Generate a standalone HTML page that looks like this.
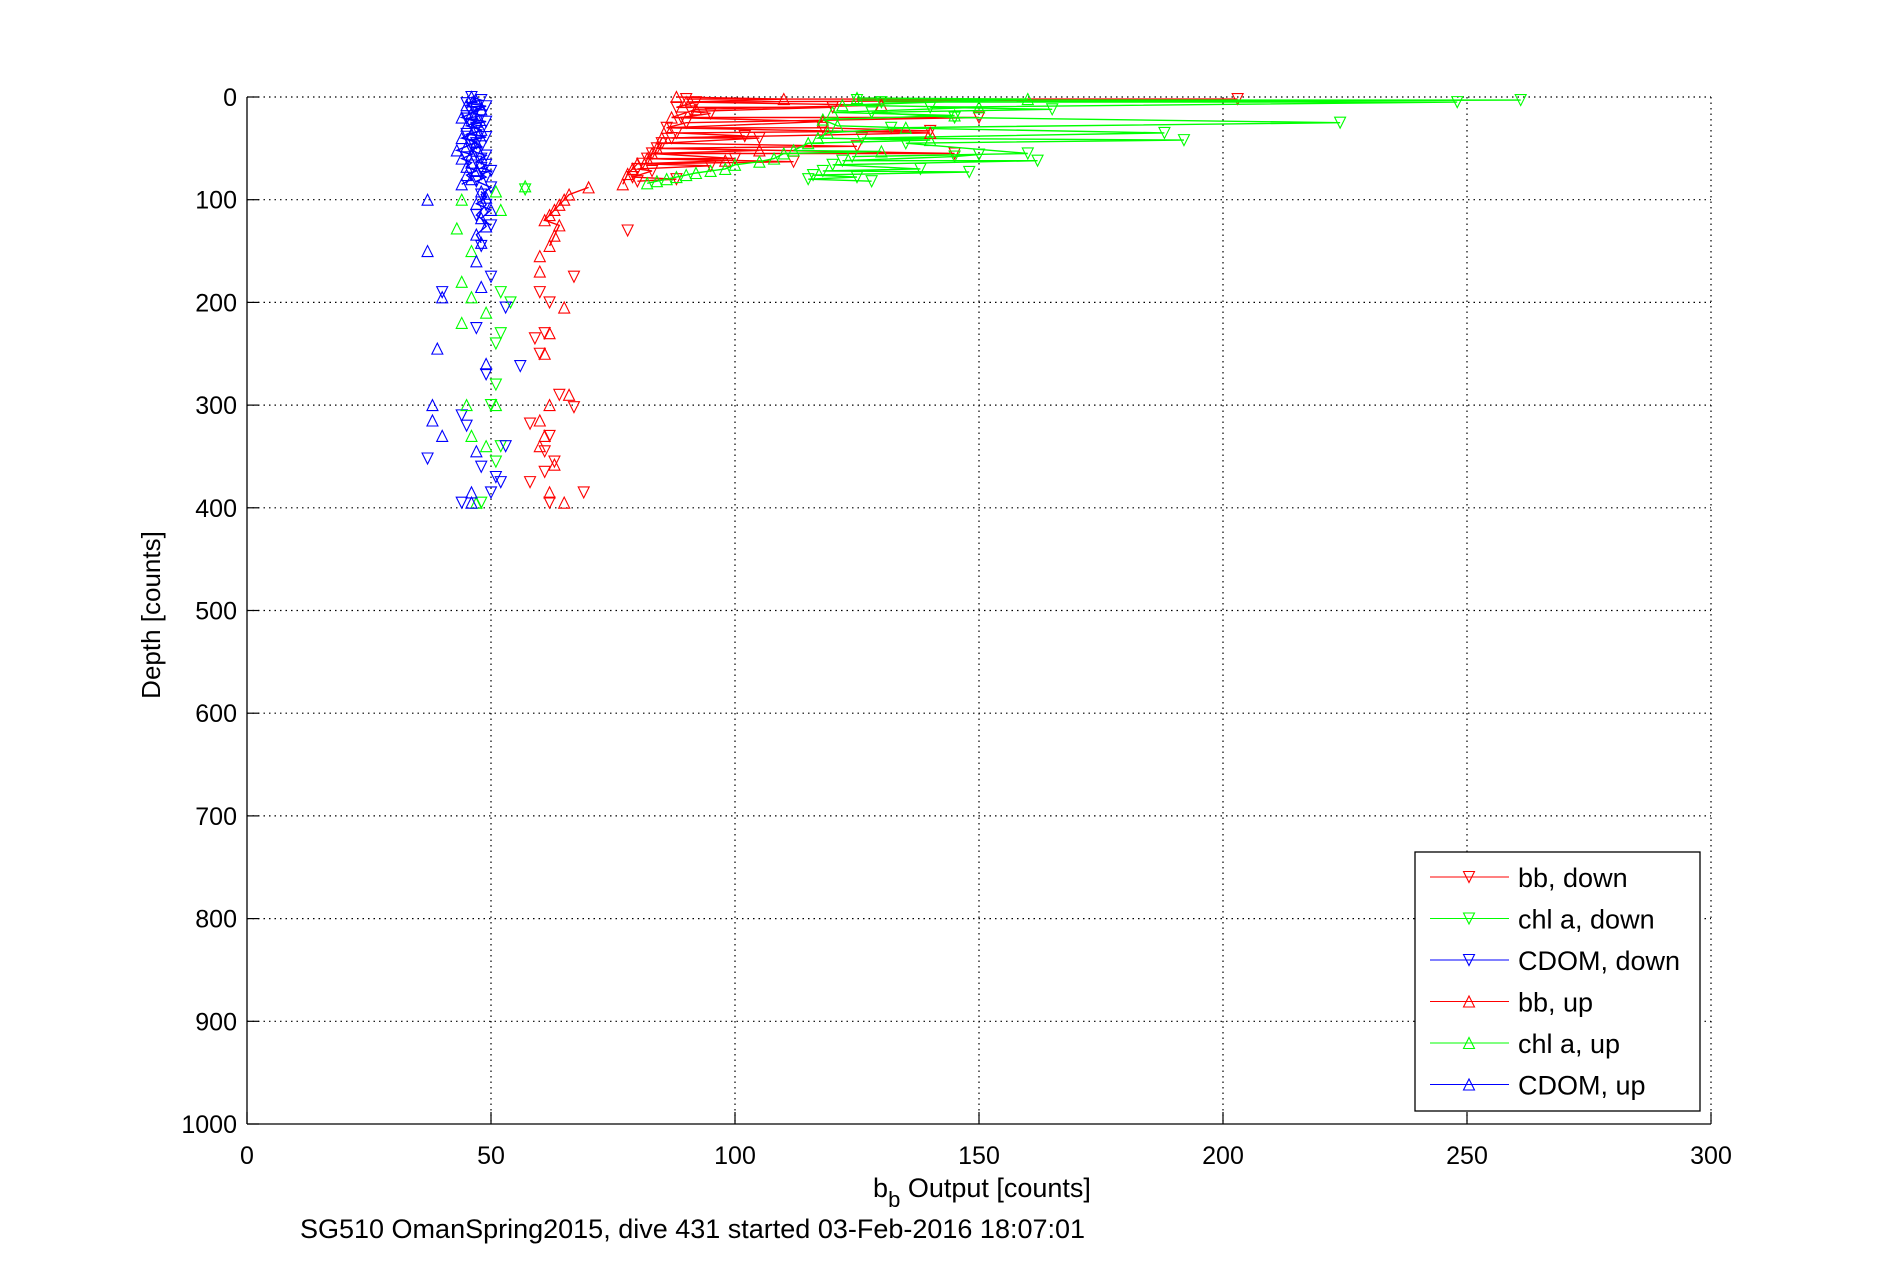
<!DOCTYPE html>
<html><head><meta charset="utf-8"><style>
html,body{margin:0;padding:0;background:#fff;}
svg{display:block;font-family:"Liberation Sans",Arial,sans-serif;}
</style></head><body>
<svg id="chart" width="1891" height="1262" viewBox="0 0 1891 1262" xmlns="http://www.w3.org/2000/svg">
<rect width="1891" height="1262" fill="#fff"/>
<g id="grid"></g>
<g id="series"></g>
<g id="axes"></g>
<text x="160" y="615" font-size="26" text-anchor="middle" transform="rotate(-90 160 615)">Depth [counts]</text>
<text x="982" y="1197" font-size="27" text-anchor="middle">b<tspan font-size="22" dy="10">b</tspan><tspan dy="-10"> Output [counts]</tspan></text>
<text x="300" y="1238" font-size="27">SG510 OmanSpring2015, dive 431 started 03-Feb-2016 18:07:01</text>
<g id="legend"></g>
</svg>
<script>
const xTicks=[0,50,100,150,200,250,300];
const yTicks=[0,100,200,300,400,500,600,700,800,900,1000];
const seriesNames=["bb, down","chl a, down","CDOM, down","bb, up","chl a, up","CDOM, up"];
const seriesColors=["#ff0000","#00ff00","#0000ff","#ff0000","#00ff00","#0000ff"];
const seriesDown=[true,true,true,false,false,false];
// values (counts) and depths; null = break
const bbDownVal=[90,203,92,88,120,91,95,89,150,90,86,118,140,88,102,87,105,85,125,84,145,83,100,82,112,81,95,80,83,79,88,80,null,78,null,67,null,60,null,62,null,61,null,59,null,60,null,64,null,67,null,58,null,62,null,61,null,63,null,61,null,58,null,62,null,69];
const bbDownDep=[2,2,5,10,10,14,16,20,20,25,30,30,33,35,38,40,40,45,48,50,55,55,60,60,63,65,67,70,72,78,80,82,null,130,null,175,null,190,null,200,null,230,null,235,null,250,null,290,null,302,null,318,null,330,null,345,null,355,null,365,null,375,null,395,null,385];
const chlDownVal=[125,261,130,248,140,165,128,145,224,132,188,126,192,135,160,124,150,145,122,162,120,138,118,148,116,125,115,128,null,57,null,52,null,54,null,52,null,51,null,51,null,50,null,52,null,51,null,48];
const chlDownDep=[3,3,5,5,10,12,15,20,25,30,35,40,42,45,55,58,56,58,62,62,66,70,72,73,76,78,80,82,null,90,null,190,null,200,null,230,null,240,null,280,null,300,null,340,null,355,null,395];
const cdomDownVal=[46,48,45,49,47,46,48,45,49,46,47,48,45,49,46,47,48,46,47,49,48,47,49,48,50,48,49,47,50,48,49,47,50,null,48,null,40,null,50,null,53,null,47,null,56,null,49,null,37,null,53,null,45,null,51,null,44,null,48,null,52,null,50,null,44];
const cdomDownDep=[0,3,6,9,12,15,18,21,24,27,30,33,36,39,42,45,48,51,54,57,60,63,66,69,72,75,78,82,88,95,105,115,125,null,145,null,190,null,175,null,205,null,225,null,262,null,270,null,352,null,340,null,320,null,370,null,310,null,360,null,375,null,385,null,395];
const bbUpVal=[88,110,90,130,92,87,118,86,140,85,84,105,83,82,98,80,79,78,77,null,70,66,65,64,63,62,61,64,63,62,null,60,null,60,null,65,null,62,null,61,null,62,null,66,null,61,null,60,null,63,null,60,null,62,null,65];
const bbUpDep=[0,2,5,8,12,20,24,30,35,40,50,52,55,60,62,65,70,75,85,null,88,95,100,105,110,115,120,125,135,145,null,155,null,170,null,205,null,230,null,250,null,300,null,290,null,330,null,340,null,358,null,315,null,385,null,395];
const chlUpVal=[125,160,122,150,120,145,118,121,135,119,117,140,115,112,130,110,108,105,100,98,95,92,90,88,86,84,82,null,57,null,51,null,44,null,52,null,43,null,46,null,44,null,46,null,49,null,44,null,45,null,51,null,46,null,49,null,47];
const chlUpDep=[1,2,8,10,15,18,22,28,30,35,40,42,45,52,53,55,60,63,66,70,72,74,76,78,80,82,84,null,87,null,92,null,100,null,110,null,128,null,150,null,180,null,195,null,210,null,220,null,300,null,300,null,330,null,340,null,395];
const cdomUpVal=[46,47,45,48,46,44,47,45,48,46,44,47,45,43,46,44,46,45,47,45,46,44,null,48,49,47,50,48,49,47,48,null,37,null,37,null,40,null,47,null,48,null,39,null,38,null,38,null,40,null,47,null,46,null,49,null,46];
const cdomUpDep=[0,4,8,12,16,20,24,28,32,36,40,44,48,52,56,60,64,68,72,76,80,85,null,92,98,104,110,118,126,134,142,null,100,null,150,null,195,null,160,null,185,null,245,null,300,null,315,null,330,null,345,null,385,null,260,null,395];
const allVals=[bbDownVal,chlDownVal,cdomDownVal,bbUpVal,chlUpVal,cdomUpVal];
const allDeps=[bbDownDep,chlDownDep,cdomDownDep,bbUpDep,chlUpDep,cdomUpDep];

const X0=247,X1=1711,Y0=97,Y1=1124;
const xs=v=>X0+(v-0)/(300-0)*(X1-X0);
const ys=d=>Y0+(d-0)/(1000-0)*(Y1-Y0);
const NS="http://www.w3.org/2000/svg";
function mk(tag,attrs,parent){const e=document.createElementNS(NS,tag);for(const k in attrs)e.setAttribute(k,attrs[k]);parent.appendChild(e);return e;}
const grid=document.getElementById('grid'),axes=document.getElementById('axes'),ser=document.getElementById('series'),leg=document.getElementById('legend');

xTicks.forEach(t=>{
  if(t>0){const g=mk('line',{x1:xs(t),x2:xs(t),y1:Y0,y2:Y1,stroke:'#000','stroke-width':1.2,'stroke-dasharray':'1.5,4'},grid);
  
  }
  mk('line',{x1:xs(t),x2:xs(t),y1:Y1,y2:Y1-12,stroke:'#000','stroke-width':1.2},axes);
  const tx=mk('text',{x:xs(t),y:Y1+40,'font-size':25,'text-anchor':'middle'},axes);
  tx.textContent=t;
  
  
});
yTicks.forEach(t=>{
  if(t<1000){const g=mk('line',{x1:X0,x2:X1,y1:ys(t),y2:ys(t),stroke:'#000','stroke-width':1.2,'stroke-dasharray':'1.5,4'},grid);
  
  }
  mk('line',{x1:X0,x2:X0+12,y1:ys(t),y2:ys(t),stroke:'#000','stroke-width':1.2},axes);
  const tx=mk('text',{x:X0-10,y:ys(t)+9,'font-size':25,'text-anchor':'end'},axes);
  tx.textContent=t;
  
  
});
mk('line',{x1:X0,x2:X0,y1:Y0,y2:Y1,stroke:'#000','stroke-width':1.3},axes);
mk('line',{x1:X0,x2:X1,y1:Y1,y2:Y1,stroke:'#000','stroke-width':1.3},axes);

function tri(x,y,down,color,parent){
  const s=5.5;
  const pts=down?`${x-s},${y-s} ${x+s},${y-s} ${x},${y+s}`:`${x-s},${y+s} ${x+s},${y+s} ${x},${y-s}`;
  return mk('polygon',{points:pts,fill:'none',stroke:color,'stroke-width':1.1},parent);
}
allVals.forEach((vals,si)=>{
  const deps=allDeps[si],col=seriesColors[si];
  const g=mk('g',{},ser);
  
  
  let d='',pen=false;
  vals.forEach((v,i)=>{
    if(v===null||deps[i]===null){pen=false;return;}
    d+=(pen?'L':'M')+xs(v).toFixed(1)+' '+ys(deps[i]).toFixed(1)+' ';pen=true;
  });
  mk('path',{d:d,fill:'none',stroke:col,'stroke-width':1.4},g);
  vals.forEach((v,i)=>{
    if(v===null||deps[i]===null)return;
    const m=tri(xs(v),ys(deps[i]),seriesDown[si],col,g);
    
    
  });
});

// legend
const LX=1415,LY=852,LW=285,LH=259;
mk('rect',{x:LX,y:LY,width:LW,height:LH,fill:'#fff',stroke:'#000','stroke-width':1.3},leg);
seriesNames.forEach((n,i)=>{
  const y=LY+25+i*41.5;
  const g=mk('g',{},leg);
  
  
  mk('line',{x1:LX+15,x2:LX+94,y1:y,y2:y,stroke:seriesColors[i],'stroke-width':1},g);
  tri(LX+54,y,seriesDown[i],seriesColors[i],g);
  const t=mk('text',{x:LX+103,y:y+10,'font-size':27},g);
  t.textContent=n;
});
</script>
</body></html>
